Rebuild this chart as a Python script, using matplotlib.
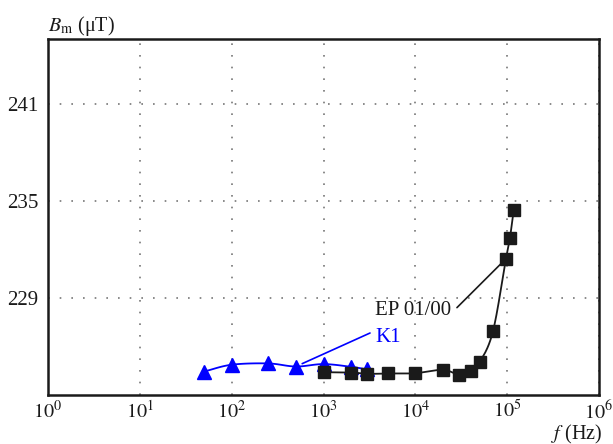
import numpy as np
import matplotlib
matplotlib.use("Agg")
import matplotlib.pyplot as plt

# ---- data ----
k1_f = [50, 100, 250, 500, 1000, 2000, 3000]
k1_b = [224.45, 224.87, 224.95, 224.76, 224.91, 224.74, 224.58]

ep_f = [1000, 2000, 3000, 5000, 10000, 20000, 30000, 40000, 50000, 70000, 97000, 107000, 118000]
ep_b = [224.41, 224.39, 224.31, 224.33, 224.35, 224.56, 224.25, 224.51, 225.01, 226.93, 231.42, 232.68, 234.46]

y_ticks = [229, 235, 241]
x_ticks = [1, 10, 100, 1000, 10000, 100000, 1000000]
x_tick_labels = [r"$10^{%d}$" % i for i in range(7)]

plt.rcParams['font.family'] = ['Liberation Serif', 'DejaVu Serif']
plt.rcParams['mathtext.fontset'] = 'stix'


def smooth(xs, ys, n=20):
    """Catmull-Rom curve through the points (in log-x space), for drawing only."""
    lx = np.log10(np.asarray(xs, float))
    y = np.asarray(ys, float)
    P = np.column_stack([lx, y])
    P = np.vstack([P[0] - (P[1] - P[0]), P, P[-1] + (P[-1] - P[-2])])
    out = []
    for i in range(1, len(P) - 2):
        p0, p1, p2, p3 = P[i - 1], P[i], P[i + 1], P[i + 2]
        t = np.linspace(0, 1, n, endpoint=False)[:, None]
        pts = 0.5 * ((2 * p1) + (-p0 + p2) * t + (2 * p0 - 5 * p1 + 4 * p2 - p3) * t ** 2
                     + (-p0 + 3 * p1 - 3 * p2 + p3) * t ** 3)
        out.append(pts)
    out.append(P[-2][None, :])
    out = np.vstack(out)
    return 10 ** out[:, 0], out[:, 1]


fig = plt.figure(figsize=(6.13, 4.44), dpi=100)
ax = fig.add_axes([48 / 613, 1 - 395 / 444, (599 - 48) / 613, (395 - 39) / 444])

ax.set_xscale('log')
ax.set_xlim(1, 1e6)
ax.set_ylim(223, 245)

BLUE = '#0000ff'
DARK = '#1a1a1a'

# K1 (blue)
sx, sy = smooth(k1_f, k1_b)
ax.plot(sx, sy, color=BLUE, lw=1.3, zorder=3)
ax.plot(k1_f, k1_b, linestyle='none', marker='^', ms=10, color=BLUE, zorder=4)

# EP 01/00 (black)
sx, sy = smooth(ep_f, ep_b)
ax.plot(sx, sy, color=DARK, lw=1.3, zorder=5)
ax.plot(ep_f, ep_b, linestyle='none', marker='s', ms=9.3, color=DARK, zorder=6)

# annotations
ax.text(3640, 228.2, 'EP 01/00', fontsize=15, color=DARK, ha='left', va='center')
ax.annotate('', xy=(ep_f[10], ep_b[10]), xytext=(28400, 228.4),
            arrowprops=dict(arrowstyle='-', color=DARK, lw=1.2, shrinkA=0, shrinkB=2))
ax.text(3640, 226.55, 'K1', fontsize=15, color=BLUE, ha='left', va='center')
ax.annotate('', xy=(k1_f[3], k1_b[3]), xytext=(3210, 226.83),
            arrowprops=dict(arrowstyle='-', color=BLUE, lw=1.2, shrinkA=0, shrinkB=5))

ax.set_xticks(x_ticks)
ax.set_xticklabels(x_tick_labels)
ax.xaxis.set_minor_locator(matplotlib.ticker.NullLocator())
ax.set_yticks(y_ticks)
ax.set_yticklabels([str(v) for v in y_ticks])
ax.tick_params(length=0, colors=DARK)
ax.tick_params(axis='x', pad=4, labelsize=14.5)
ax.tick_params(axis='y', pad=7, labelsize=15)

ax.grid(True, which='major', color='#777777', linestyle=(0, (1, 6)), lw=1.2)
for s in ax.spines.values():
    s.set_linewidth(1.8)
    s.set_color(DARK)

fig.text(48 / 613, 1 - 31 / 444, r'$B_{\rm m}$ (μT)', fontsize=14.5, ha='left', va='baseline', color=DARK)
fig.text(602 / 613, 1 - 439 / 444, r'$f$ (Hz)', fontsize=14.5, ha='right', va='baseline', color=DARK)

fig.savefig('out.png', dpi=100)
